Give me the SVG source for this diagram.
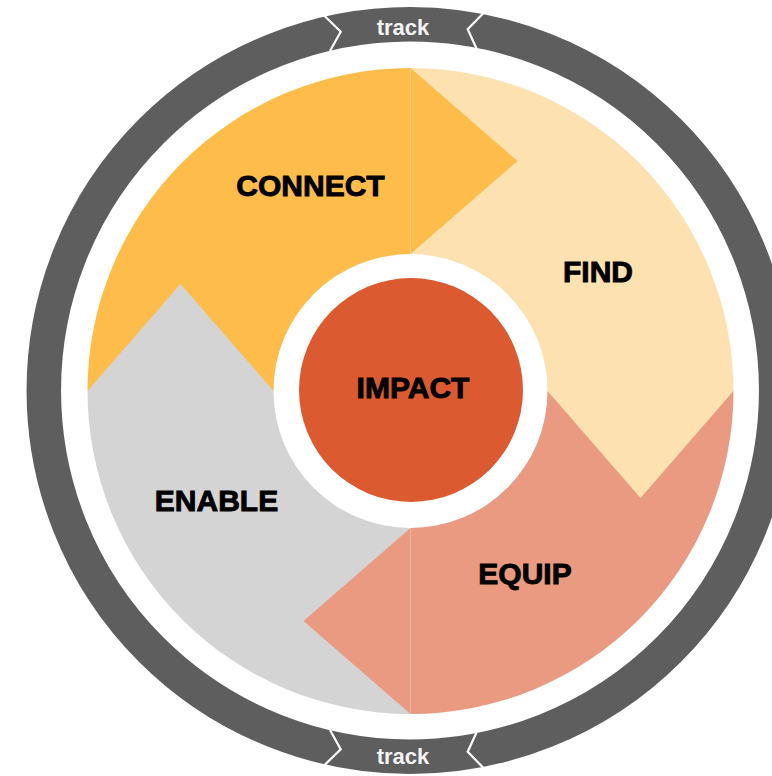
<svg xmlns="http://www.w3.org/2000/svg" width="772" height="776" viewBox="0 0 772 776">
  <style>
    .lbl { font-family: "Liberation Sans", Arial, sans-serif; font-weight: bold; font-size: 30px; fill: #000; stroke: #000; stroke-width: 0.9; text-anchor: middle; }
    .trk { font-family: "Liberation Sans", Arial, sans-serif; font-weight: bold; font-size: 22px; fill: #f4f4f4; text-anchor: middle; }
    .chev { fill: none; stroke: #ffffff; stroke-width: 2.2; stroke-linejoin: miter; }
  </style>
  <rect width="772" height="776" fill="#ffffff"/>

  <g id="track-ring">
    <circle cx="410" cy="390.5" r="366.2" fill="none" stroke="#5e5e5e" stroke-width="34.5"/>
    <polyline class="chev" points="321.5,13 340.7,31.7 330,51"/>
    <polyline class="chev" points="484,12.5 467.7,29.3 476.5,48.5"/>
    <polyline class="chev" points="321.5,768 340.7,749.3 330,730"/>
    <polyline class="chev" points="484,768.5 467.7,751.7 476.5,732.5"/>
    <text class="trk" x="403" y="35">track</text>
    <text class="trk" x="403" y="764">track</text>
  </g>

  <g id="connect">
    <path d="M410.5,391 L87.5,391 A323,323 0 0 1 410.5,68 Z" fill="#febd4b"/>
  </g>
  <g id="find">
    <path d="M410.5,391 L410.5,68 A323,323 0 0 1 733.5,391 Z" fill="#fee1b0"/>
  </g>
  <g id="equip">
    <path d="M410.5,391 L733.5,391 A323,323 0 0 1 410.5,714 Z" fill="#e99a80"/>
  </g>
  <g id="enable">
    <path d="M410.5,391 L410.5,714 A323,323 0 0 1 87.5,391 Z" fill="#d4d4d4"/>
  </g>

  <g id="connectors">
    <polygon points="410.5,68 517.5,161 410.5,254" fill="#febd4b"/>
    <polygon points="547.5,391 640.5,498 733.5,391" fill="#fee1b0"/>
    <polygon points="410.5,528 303.5,621 410.5,714" fill="#e99a80"/>
    <polygon points="87.5,391 180.5,284 273.5,391" fill="#d4d4d4"/>
  </g>

  <g id="impact">
    <circle cx="410.5" cy="391" r="137" fill="#ffffff"/>
    <circle cx="411" cy="390" r="112" fill="#dc5a2f"/>
    <text class="lbl" x="413" y="397.5">IMPACT</text>
  </g>

  <g id="labels">
    <text class="lbl" x="310.5" y="196">CONNECT</text>
    <text class="lbl" x="598" y="282">FIND</text>
    <text class="lbl" x="216.5" y="511">ENABLE</text>
    <text class="lbl" x="525" y="584">EQUIP</text>
  </g>
</svg>
